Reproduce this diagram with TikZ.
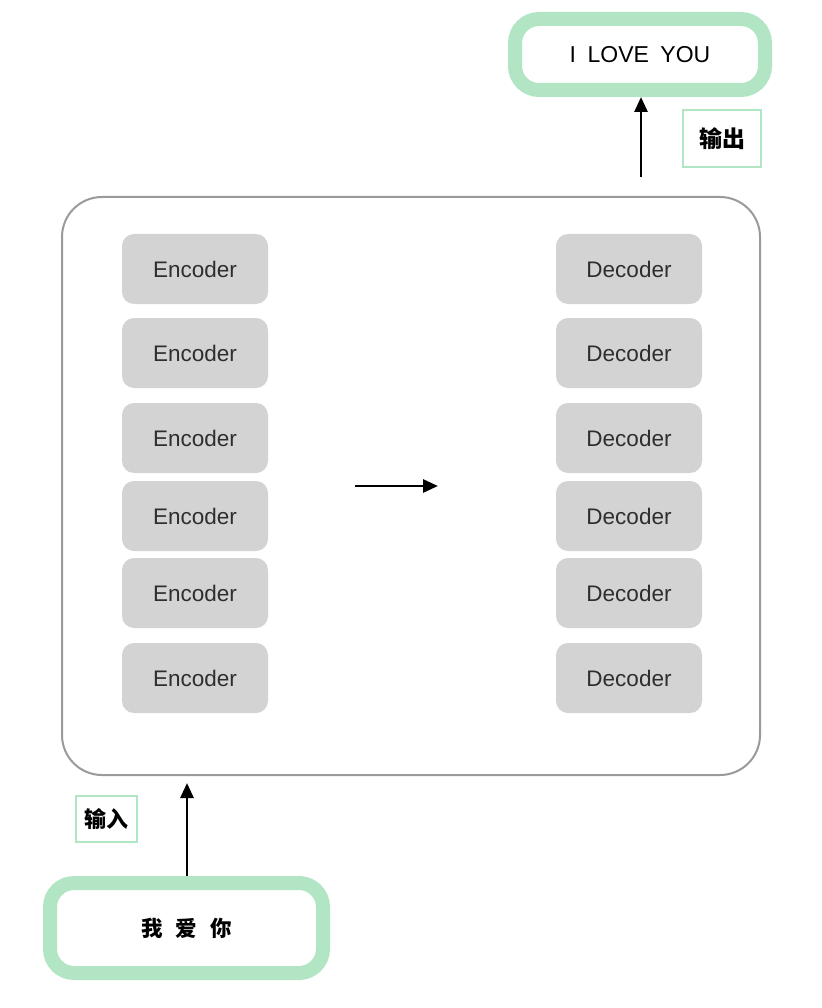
\documentclass[tikz,border=0pt]{standalone}
\usepackage{fontspec}
\setmainfont{Liberation Sans}
\newfontfamily\cjk{Noto Sans CJK SC}
\usetikzlibrary{arrows.meta}
\definecolor{mint}{HTML}{B2E5C3}
\definecolor{boxgray}{HTML}{D3D3D3}
\definecolor{framegray}{HTML}{9A9A9A}
\definecolor{txtgray}{HTML}{2E2E2E}
\begin{document}
\begin{tikzpicture}[x=1pt,y=-1pt,
  layer/.style={fill=boxgray, rounded corners=12pt, minimum width=146pt, minimum height=70pt,
    inner sep=0pt, text=txtgray, font=\fontsize{22.5}{26}\selectfont},
  bigbox/.style={draw=mint, line width=14pt, rounded corners=24pt, fill=white, inner sep=0pt},
  tagbox/.style={draw=mint, line width=2.5pt, inner sep=0pt},
  arr/.style={line width=2.8pt, -{Triangle[length=15pt,width=13pt]}}
]
\useasboundingbox (0,0) rectangle (821,1008);

% main container
\node[draw=framegray, line width=2pt, rounded corners=40pt, minimum width=698pt, minimum height=578pt] (main) at (411,486) {};

% encoders and decoders
\foreach \i/\y in {1/269,2/353,3/438,4/516,5/593,6/678}{
  \node[layer] (enc\i) at (195,\y) {Encoder};
  \node[layer] (dec\i) at (629,\y) {Decoder};
}

% middle arrow
\coordinate (m1) at (355,486);
\coordinate (m2) at (438,486);
\draw[arr] (m1) -- (m2);

% output
\node[bigbox, minimum width=250pt, minimum height=71pt, font=\fontsize{23}{26}\selectfont] (out) at (640,54.5) {I\hspace{0.5em}LOVE\hspace{0.5em}YOU};
\coordinate (o1) at (641,177);
\draw[arr] (o1) -- (o1 |- out.south);
\node[tagbox, minimum width=78pt, minimum height=57pt, font=\cjk\bfseries\fontsize{23}{26}\selectfont] (outtag) at (722,138.5) {输出};

% input
\node[bigbox, minimum width=273pt, minimum height=90pt, font=\cjk\bfseries\fontsize{21.5}{26}\selectfont] (in) at (186.5,928) {我\hspace{0.6em}爱\hspace{0.6em}你};
\coordinate (i2) at (187,783);
\draw[arr] (i2 |- in.north) -- (i2);
\node[tagbox, minimum width=61pt, minimum height=46pt, font=\cjk\bfseries\fontsize{22}{26}\selectfont] (intag) at (106.5,819) {输入};
\end{tikzpicture}
\end{document}
